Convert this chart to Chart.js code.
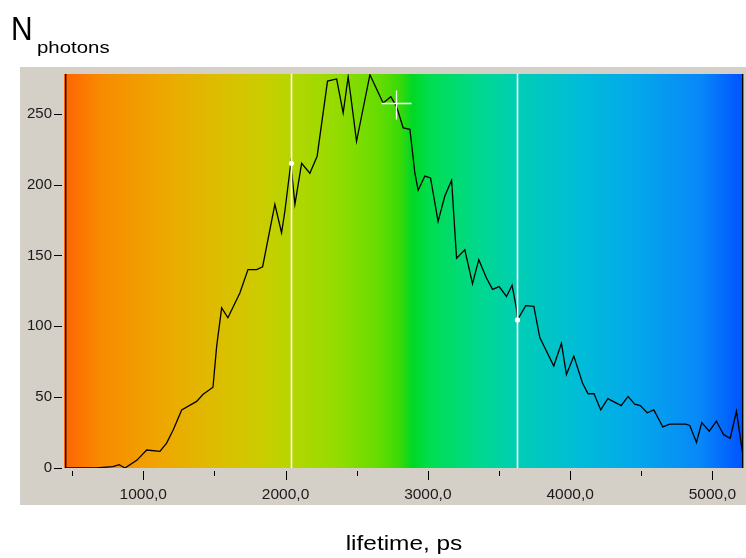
<!DOCTYPE html>
<html>
<head>
<meta charset="utf-8">
<script src="https://cdn.jsdelivr.net/npm/chart.js@4/dist/chart.umd.min.js"></script>
<style>
  html, body { margin: 0; padding: 0; background: #ffffff; }
  #c { display: block; }
</style>
</head>
<body>
<canvas id="c" width="746" height="558"></canvas>
<script>
// ---- data ----
const lifetimes = [457, 668, 787, 831, 871, 954, 1024, 1117, 1164, 1211, 1270, 1375, 1421, 1490, 1516,
  1551, 1595, 1679, 1736, 1797, 1839, 1925, 1972, 1995, 2037, 2066, 2113, 2171, 2222, 2295,
  2359, 2405, 2440, 2457, 2499, 2593, 2686, 2740, 2780, 2827, 2874, 2909, 2932, 2979, 3019,
  3072, 3119, 3167, 3202, 3260, 3314, 3358, 3412, 3455, 3501, 3553, 3592, 3622, 3630, 3688,
  3745, 3787, 3885, 3939, 3974, 4026, 4087, 4126, 4168, 4215, 4265, 4359, 4407, 4454, 4493,
  4542, 4588, 4625, 4651, 4700, 4812, 4841, 4888, 4925, 4978, 5028, 5079, 5125, 5169, 5213];
const counts = [0, 0, 1, 2.3, 0, 5.4, 12.7, 11.7, 17.6, 27, 41, 47, 52, 57, 86,
  113, 106, 123.5, 140, 140, 142, 186, 166, 181, 215, 186, 215, 208, 220, 273,
  274.5, 250.5, 276, 263.5, 230.5, 277.5, 257.6, 262, 255, 240, 239, 208, 196, 206, 204.7,
  174, 191.7, 203, 148, 154, 130, 147, 134, 126, 128, 121, 129, 113, 104.5, 114.5,
  114, 92, 72, 88, 66, 79, 60, 52.4, 52.4, 41, 49, 44, 50.5, 45, 44,
  39, 41, 34, 29, 31, 31, 30, 18, 32, 26, 33, 23.5, 21, 40, 10];
const xTickValues = [1000, 2000, 3000, 4000, 5000];
const xMinorTickValues = [500, 1500, 2500, 3500, 4500];
const yTickValues = [0, 50, 100, 150, 200, 250];
const markerLifetimes = [2037, 3630];
const markerCounts = [215, 104.5];
const cursorPoint = [2773, 257.6];
const xRange = [443, 5215];
const yRange = [0, 278];
const yTitleMain = 'N';
const yTitleSub = 'photons';
const xTitle = 'lifetime, ps';

// ---- styling ----
const gradientStops = [
  [0.000, '#ff6400'], [0.053, '#f88a00'], [0.141, '#efa600'], [0.230, '#dcbe00'],
  [0.289, '#cccc00'], [0.333, '#b6d600'], [0.406, '#92dc00'], [0.465, '#64dc00'],
  [0.495, '#38da08'], [0.513, '#00d824'], [0.539, '#00de50'], [0.613, '#00d890'],
  [0.672, '#00cdb6'], [0.760, '#00bcd8'], [0.848, '#04a6ec'], [0.937, '#0888f8'],
  [1.000, '#0052ff']
];
const FONT = '"Liberation Sans", Arial, sans-serif';

const decor = {
  id: 'decor',
  beforeDraw(chart) {
    const ctx = chart.ctx, a = chart.chartArea;
    ctx.save();
    ctx.fillStyle = '#ffffff';
    ctx.fillRect(0, 0, chart.width, chart.height);
    ctx.fillStyle = '#d4d0c8';
    ctx.fillRect(20, 67, chart.width - 20, 505 - 67);
    const g = ctx.createLinearGradient(a.left, 0, a.right, 0);
    gradientStops.forEach(s => g.addColorStop(s[0], s[1]));
    ctx.fillStyle = g;
    ctx.fillRect(a.left, a.top, a.right - a.left, a.bottom - a.top);
    ctx.restore();
  },
  afterDatasetsDraw(chart) {
    const ctx = chart.ctx, a = chart.chartArea;
    const xs = chart.scales.x, ys = chart.scales.y;
    ctx.save();
    ctx.strokeStyle = '#ffffff';
    ctx.lineWidth = 1.6;
    markerLifetimes.forEach((v, i) => {
      const px = Math.round(xs.getPixelForValue(v)) + 0.5;
      ctx.beginPath(); ctx.moveTo(px, a.top); ctx.lineTo(px, a.bottom); ctx.stroke();
      const py = ys.getPixelForValue(markerCounts[i]);
      ctx.fillStyle = '#ffffff';
      ctx.beginPath(); ctx.arc(px, py, 2.6, 0, Math.PI * 2); ctx.fill();
    });
    const cx = Math.round(xs.getPixelForValue(cursorPoint[0])) + 0.5;
    const cy = Math.round(ys.getPixelForValue(cursorPoint[1])) + 0.5;
    ctx.lineWidth = 1.3;
    ctx.beginPath();
    ctx.moveTo(cx - 15, cy); ctx.lineTo(cx + 15, cy);
    ctx.moveTo(cx, cy - 13); ctx.lineTo(cx, cy + 16);
    ctx.stroke();
    ctx.strokeStyle = '#000000';
    ctx.lineWidth = 1.4;
    ctx.beginPath();
    ctx.moveTo(a.left + 1.7, a.top); ctx.lineTo(a.left + 1.7, a.bottom);
    ctx.moveTo(a.right - 0.3, a.top); ctx.lineTo(a.right - 0.3, a.bottom);
    ctx.stroke();
    ctx.restore();
  },
  afterDraw(chart) {
    const ctx = chart.ctx, a = chart.chartArea;
    const xs = chart.scales.x, ys = chart.scales.y;
    ctx.save();
    ctx.strokeStyle = '#000000';
    ctx.lineWidth = 1;
    ctx.beginPath();
    yTickValues.forEach(v => {
      const py = Math.round(ys.getPixelForValue(v)) + 0.5;
      ctx.moveTo(54, py); ctx.lineTo(62, py);
    });
    xTickValues.forEach(v => {
      const px = Math.round(xs.getPixelForValue(v)) + 0.5;
      ctx.moveTo(px, a.bottom + 3); ctx.lineTo(px, a.bottom + 12);
    });
    xMinorTickValues.forEach(v => {
      const px = Math.round(xs.getPixelForValue(v)) + 0.5;
      ctx.moveTo(px, a.bottom + 3); ctx.lineTo(px, a.bottom + 8);
    });
    ctx.stroke();
    ctx.fillStyle = '#000000';
    ctx.textBaseline = 'alphabetic';
    ctx.textAlign = 'left';
    ctx.save();
    ctx.translate(11, 40); ctx.scale(0.88, 1);
    ctx.font = '34px ' + FONT;
    ctx.fillText(yTitleMain, 0, 0);
    ctx.restore();
    ctx.save();
    ctx.translate(37, 53); ctx.scale(1.2, 1);
    ctx.font = '17px ' + FONT;
    ctx.fillText(yTitleSub, 0, 0);
    ctx.restore();
    ctx.save();
    ctx.translate(404, 550); ctx.scale(1.22, 1);
    ctx.textAlign = 'center';
    ctx.font = '20px ' + FONT;
    ctx.fillText(xTitle, 0, 0);
    ctx.restore();
    ctx.restore();
  }
};

new Chart(document.getElementById('c'), {
  type: 'line',
  data: {
    datasets: [{
      data: lifetimes.map((x, i) => ({ x: x, y: counts[i] })),
      borderColor: '#000000',
      borderWidth: 1.3,
      pointRadius: 0,
      tension: 0,
      fill: false
    }]
  },
  options: {
    responsive: false,
    animation: false,
    devicePixelRatio: 1,
    layout: { padding: { top: 74, right: 3, left: 0, bottom: 0 } },
    plugins: { legend: { display: false }, tooltip: { enabled: false }, title: { display: false } },
    scales: {
      x: {
        type: 'linear',
        min: xRange[0], max: xRange[1],
        afterFit(s) { s.height = 90; s.paddingLeft = 0; s.paddingRight = 0; },
        afterBuildTicks(s) { s.ticks = xTickValues.map(v => ({ value: v })); },
        grid: { display: false, drawTicks: false },
        border: { display: false },
        ticks: {
          padding: 17,
          maxRotation: 0,
          autoSkip: false,
          color: '#1a1a1a',
          font: { family: FONT, size: 15.5 },
          callback: v => v.toFixed(1).replace('.', ',')
        }
      },
      y: {
        type: 'linear',
        min: yRange[0], max: yRange[1],
        afterFit(s) { s.width = 64; s.paddingTop = 0; s.paddingBottom = 0; },
        afterBuildTicks(s) { s.ticks = yTickValues.map(v => ({ value: v })); },
        grid: { display: false, drawTicks: false },
        border: { display: false },
        ticks: {
          padding: 12,
          color: '#1a1a1a',
          font: { family: FONT, size: 15 },
          callback: v => String(v)
        }
      }
    }
  },
  plugins: [decor]
});
</script>
</body>
</html>
